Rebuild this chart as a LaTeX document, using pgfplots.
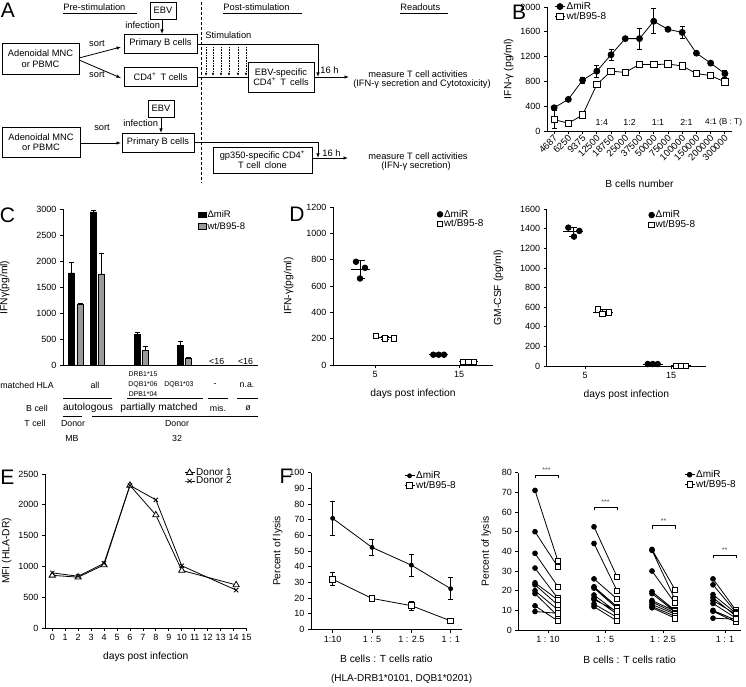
\documentclass[border=0pt]{standalone}
\usepackage{fontspec}
\setmainfont{Liberation Sans}
\usepackage{pgfplots}
\pgfplotsset{compat=1.18}
\usetikzlibrary{arrows.meta}
\newcommand{\fs}[2]{\fontsize{#1}{#2}\selectfont}
\definecolor{bargray}{gray}{0.6}
\pgfplotsset{
 gp/.style={
  scale only axis, anchor=south west,
  axis x line*=bottom, axis y line*=left,
  axis line style={line width=0.8pt, -},
  every tick/.style={line width=0.8pt, black},
  tick align=outside, major tick length=3pt,
  ticklabel style={font=\fs{9}{10}},
  label style={font=\fs{10.3}{12}},
  xlabel shift=4pt,
  /pgf/number format/assume math mode=true,
  /pgf/number format/1000 sep={},
  scaled ticks=false, clip=false,
  legend cell align=left,
  legend style={draw=none, fill=none, inner sep=0pt, font=\fs{10}{11}, row sep=-1.5pt, nodes={inner sep=1.2pt}, anchor=north west},
  every axis plot/.append style={line width=0.8pt},
  error bars/error bar style={line width=0.8pt, solid},
  error bars/error mark options={rotate=90, line width=0.8pt, mark size=2.5pt, solid},
 },
 lm/.style={legend image code/.code={\draw[mark repeat=2,mark phase=2,##1] plot coordinates {(0pt,0pt) (5pt,0pt) (10pt,0pt)};}},
}
\begin{document}
\begin{tikzpicture}
\useasboundingbox (0,0) rectangle (746pt,686pt);

% ---------------- B ----------------
\begin{axis}[gp, lm, at={(547pt,555pt)}, width=185pt, height=124pt,
  xmin=-0.5, xmax=12.5, ymin=0, ymax=2000, ytick={0,400,...,2000},
  xtick={0,...,12},
  xticklabels={4687,6250,9375,12500,18750,25000,37500,50000,75000,100000,150000,200000,300000},
  xticklabel style={xshift=4pt, rotate=45, anchor=east, font=\fs{9.5}{10}},
  xlabel={B cells number}, xlabel shift=10pt, ylabel={IFN-γ (pg/ml)},
  legend style={at={(0.04,1.05)}}]
\addplot[black, mark=*, mark size=3pt, error bars/.cd, y dir=both, y explicit] table[x=i, y=y, y error=e] {
i y e
0 375 45
1 510 0
2 820 45
3 965 95
4 1230 85
5 1490 20
6 1490 170
7 1770 200
8 1640 20
9 1590 100
10 1255 15
11 1095 20
12 925 55
};
\addlegendentry{ΔmiR}
\addplot[black, mark=square*, mark size=3.2pt, mark options={fill=white}, error bars/.cd, y dir=both, y explicit] table[x=i, y=y, y error=e] {
i y e
0 185 140
1 125 0
2 258 0
3 750 0
4 965 40
5 945 0
6 1075 0
7 1070 0
8 1080 0
9 1050 0
10 925 0
11 895 0
12 790 30
};
\addlegendentry{wt/B95-8}
\node[font=\fs{8.8}{10}] at (axis cs:3.35,145) {1:4};
\node[font=\fs{8.8}{10}] at (axis cs:5.3,145) {1:2};
\node[font=\fs{8.8}{10}] at (axis cs:7.3,145) {1:1};
\node[font=\fs{8.8}{10}] at (axis cs:9.3,145) {2:1};
\node[font=\fs{8.3}{10}, anchor=west, inner sep=0pt] at (axis cs:10.6,145) {4:1 (B : T)};
\end{axis}

% ---------------- C ----------------
\begin{axis}[gp, at={(63pt,320.3pt)}, width=195pt, height=156.4pt,
  xmin=63, xmax=258, ymin=0, ymax=3000, xtick=\empty, ytick={0,500,...,3000},
  ylabel={IFNγ(pg/ml)}, ylabel shift=20pt,
  legend style={at={(0.69,1.0)}, row sep=1pt, font=\fs{9.5}{10}},
  legend image code/.code={\draw[#1] (0pt,-2.8pt) rectangle (8pt,3pt);}]
\addplot[ybar, bar width=6, bar shift=0pt, fill=black, draw=black, line width=0.6pt,
  error bars/.cd, y dir=plus, y explicit, error mark options={rotate=90, mark size=2.5pt, line width=0.8pt}]
  coordinates {(71.5,1780) +- (0,200) (93,2950) +- (0,30) (137,608) +- (0,25) (180.5,385) +- (0,77)};
\addlegendentry{ΔmiR}
\addplot[ybar, bar width=6, bar shift=0pt, fill=bargray, draw=black, line width=0.6pt,
  error bars/.cd, y dir=plus, y explicit, error mark options={rotate=90, mark size=2.5pt, line width=0.8pt}]
  coordinates {(80,1170) +- (0,22) (101.5,1760) +- (0,395) (145,290) +- (0,75) (188.5,148) +- (0,14)};
\addlegendentry{wt/B95-8}
\end{axis}

% ---------------- D left ----------------
\begin{axis}[gp, at={(333pt,321pt)}, width=160pt, height=158pt,
  xmin=333, xmax=493, ymin=0, ymax=1200, ytick={0,200,...,1200},
  xtick={375,459}, xticklabels={5,15},
  xlabel={days post infection}, ylabel={IFN-γ(pg/ml)}, ylabel shift=6pt,
  legend style={at={(0.65,0.99)}}]
\addlegendimage{only marks, mark=*, mark size=2.8pt, black}
\addlegendentry{ΔmiR}
\addlegendimage{only marks, mark=square*, mark size=2.8pt, black, mark options={fill=white}}
\addlegendentry{wt/B95-8}
\addplot[forget plot, black, only marks, mark=-, mark size=9.5pt, error bars/.cd, y dir=both, y explicit, error mark options={rotate=90, mark size=4pt, line width=0.8pt}]
  coordinates {(360.5,725) +- (0,66) (384.5,207) +- (0,12) (438.7,78) +- (0,3) (468.3,25) +- (0,4)};
\addplot[forget plot, black, only marks, mark=*, mark size=2.8pt]
  coordinates {(356,784) (365,738) (360,657) (433.3,78) (438.7,78) (444,78)};
\addplot[forget plot, black, only marks, mark=square*, mark size=2.8pt, mark options={fill=white}]
  coordinates {(376,221) (385,200) (394,200) (463,25) (468.3,25) (473.7,25)};
\end{axis}

% ---------------- D right ----------------
\begin{axis}[gp, at={(546.7pt,320pt)}, width=159.3pt, height=156.7pt,
  xmin=546.7, xmax=706, ymin=0, ymax=1600, ytick={0,200,...,1600},
  xtick={585,671}, xticklabels={5,15},
  xlabel={days post infection}, ylabel={GM-CSF (pg/ml)}, ylabel shift=10pt,
  legend style={at={(0.64,1.0)}}]
\addlegendimage{only marks, mark=*, mark size=2.8pt, black}
\addlegendentry{ΔmiR}
\addlegendimage{only marks, mark=square*, mark size=2.8pt, black, mark options={fill=white}}
\addlegendentry{wt/B95-8}
\addplot[forget plot, black, only marks, mark=-, mark size=10pt, error bars/.cd, y dir=both, y explicit, error mark options={rotate=90, mark size=4pt, line width=0.8pt}]
  coordinates {(573,1372) +- (0,46) (602.5,552) +- (0,25) (652.7,20) +- (0,2) (681,3) +- (0,2)};
\addplot[forget plot, black, only marks, mark=*, mark size=2.8pt]
  coordinates {(568.3,1413) (574,1321) (579.3,1379) (647.7,20) (652.7,20) (657.7,20)};
\addplot[forget plot, black, only marks, mark=square*, mark size=2.8pt, mark options={fill=white}]
  coordinates {(597.7,579) (602.3,531) (608.7,545) (676,3) (681,3) (686,3)};
\end{axis}

% ---------------- E ----------------
\begin{axis}[gp, lm, at={(45pt,58pt)}, width=201.5pt, height=154pt,
  xmin=-0.56, xmax=15, ymin=0, ymax=2500, ytick={0,500,...,2500},
  xtick={0,...,15},
  xlabel={days post infection}, ylabel={MFI (HLA-DR)}, ylabel shift=0pt,
  legend style={at={(0.69,1.045)}, row sep=-2.5pt}]
\addplot[black, mark=triangle*, mark size=3.6pt, mark options={fill=white}]
  coordinates {(0,855) (2,825) (4,1025) (6,2315) (8,1835) (10,935) (14.2,700)};
\addlegendentry{Donor 1}
\addplot[black, mark=x, mark size=3pt]
  coordinates {(0,895) (2,840) (4,1050) (6,2315) (8,2080) (10,1010) (14.2,615)};
\addlegendentry{Donor 2}
\end{axis}

% ---------------- F left ----------------
\begin{axis}[gp, lm, at={(311pt,56.5pt)}, width=150.7pt, height=157pt,
  xmin=-0.55, xmax=3.28, ymin=0, ymax=100, ytick={0,10,...,100},
  xtick={0,1,2,3}, xticklabels={1:10,1 : 5,1 : 2.5,1 : 1},
  xlabel={B cells : T cells ratio}, xlabel shift=6pt, ylabel={Percent of lysis},
  legend style={at={(0.617,1.016)}}]
\addplot[black, mark=*, mark size=2pt, error bars/.cd, y dir=both, y explicit] table[x=i, y=y, y error=e] {
i y e
0 70.8 11
1 52.3 5.4
2 41 7
3 26 7
};
\addlegendentry{ΔmiR}
\addplot[black, mark=square*, mark size=2.8pt, mark options={fill=white}, error bars/.cd, y dir=both, y explicit] table[x=i, y=y, y error=e] {
i y e
0 32 4.2
1 19.8 2
2 15.2 3
3 5.5 1
};
\addlegendentry{wt/B95-8}
\end{axis}

% ---------------- F right ----------------
\begin{axis}[gp, lm, at={(518.3pt,56pt)}, width=222.7pt, height=157.3pt,
  xmin=518.3, xmax=741, ymin=0, ymax=80, ytick={0,10,...,80},
  xtick={548,605,663,725}, xticklabels={1 : 10,1 : 5,1 : 2.5,1 : 1},
  xlabel={B cells : T cells ratio}, xlabel shift=6pt, ylabel={Percent of lysis}, ylabel shift=4pt,
  legend style={at={(0.744,1.024)}}]
\addlegendimage{black, mark=*, mark size=2.4pt}
\addlegendentry{ΔmiR}
\addlegendimage{black, mark=square*, mark size=2.7pt, mark options={fill=white}}
\addlegendentry{wt/B95-8}
\addplot[forget plot, black, no marks, line width=0.8pt, unbounded coords=jump] coordinates {
(535,71) (558,35) (546,nan)
(535,50) (558,32) (546,nan)
(535,39) (558,22) (546,nan)
(535,31.5) (558,16) (546,nan)
(535,24) (558,15.3) (546,nan)
(535,23) (558,12.7) (546,nan)
(535,20) (558,10.2) (546,nan)
(535,18.5) (558,7.1) (546,nan)
(535,12.3) (558,4.6) (546,nan)
(535,9.4) (558,8.5) (546,nan)
(594,52.5) (617,27.1) (605,nan)
(594,44) (617,20) (605,nan)
(594,26) (617,15.8) (605,nan)
(594,22) (617,11.9) (605,nan)
(594,21.3) (617,11) (605,nan)
(594,17.8) (617,9) (605,nan)
(594,16.3) (617,8.1) (605,nan)
(594,15.5) (617,9.5) (605,nan)
(594,13.2) (617,6.5) (605,nan)
(594,11.9) (617,4.6) (605,nan)
(652,41) (675,20.5) (663,nan)
(652,40.5) (675,15.5) (663,nan)
(652,30) (675,13.7) (663,nan)
(652,19.5) (675,10) (663,nan)
(652,18.5) (675,9.3) (663,nan)
(652,15) (675,9.6) (663,nan)
(652,14.2) (675,8.7) (663,nan)
(652,13) (675,8) (663,nan)
(652,12) (675,7) (663,nan)
(652,11.3) (675,6) (663,nan)
(713,26) (736,10) (725,nan)
(713,23) (736,9) (725,nan)
(713,18) (736,8.5) (725,nan)
(713,16.5) (736,7) (725,nan)
(713,15) (736,8) (725,nan)
(713,13.5) (736,6) (725,nan)
(713,10) (736,5) (725,nan)
(713,9.5) (736,4) (725,nan)
(713,6) (736,5.5) (725,nan)
};
\addplot[forget plot, black, only marks, mark=*, mark size=2.4pt] coordinates {
(535,71) (535,50) (535,39) (535,31.5) (535,24) (535,23) (535,20) (535,18.5) (535,12.3) (535,9.4)
(594,52.5) (594,44) (594,26) (594,22) (594,21.3) (594,17.8) (594,16.3) (594,15.5) (594,13.2) (594,11.9)
(652,41) (652,40.5) (652,30) (652,19.5) (652,18.5) (652,15) (652,14.2) (652,13) (652,12) (652,11.3)
(713,26) (713,23) (713,18) (713,16.5) (713,15) (713,13.5) (713,10) (713,9.5) (713,6)
};
\addplot[forget plot, black, only marks, mark=square*, mark size=2.7pt, mark options={fill=white}] coordinates {
(558,35) (558,32) (558,22) (558,16) (558,15.3) (558,12.7) (558,10.2) (558,7.1) (558,4.6) (558,8.5)
(617,27.1) (617,20) (617,15.8) (617,11.9) (617,11) (617,9) (617,8.1) (617,9.5) (617,6.5) (617,4.6)
(675,20.5) (675,15.5) (675,13.7) (675,10) (675,9.3) (675,9.6) (675,8.7) (675,8) (675,7) (675,6)
(736,10) (736,9) (736,8.5) (736,7) (736,8) (736,6) (736,5) (736,4) (736,5.5)
};
\draw[line width=0.7pt] (axis cs:535,77.3) -- (axis cs:535,78.8) -- (axis cs:558,78.8) -- (axis cs:558,77.3);
\draw[line width=0.7pt] (axis cs:594,60.9) -- (axis cs:594,62.4) -- (axis cs:617,62.4) -- (axis cs:617,60.9);
\draw[line width=0.7pt] (axis cs:652,51.5) -- (axis cs:652,53) -- (axis cs:675,53) -- (axis cs:675,51.5);
\draw[line width=0.7pt] (axis cs:713,36.6) -- (axis cs:713,38.1) -- (axis cs:736,38.1) -- (axis cs:736,36.6);
\node[font=\fs{7}{7}, text=black!70] at (axis cs:546.5,81.3) {***};
\node[font=\fs{7}{7}, text=black!70] at (axis cs:605.5,64.9) {***};
\node[font=\fs{7}{7}, text=black!70] at (axis cs:663.5,55.5) {**};
\node[font=\fs{7}{7}, text=black!70] at (axis cs:724.5,40.6) {**};
\end{axis}

% ---------------- annotations in pixel coordinates ----------------
\begin{scope}[x=1pt, y=-1pt, shift={(0pt,686pt)}, line width=0.8pt, font=\fs{9.3}{10.5},
  arr/.style={-{Latex[length=4.5pt,width=3.5pt]}}]
 % panel letters
 \node[font=\fs{21}{21}] at (8,10) {A};
 \node[font=\fs{21}{21}] at (519,12) {B};
 \node[font=\fs{21}{21}] at (7.5,215) {C};
 \node[font=\fs{21}{21}] at (297,214) {D};
 \node[font=\fs{21}{21}] at (7.5,477) {E};
 \node[font=\fs{21}{21}] at (286,476) {F};
 % A headers
 \node[anchor=base west, inner sep=0pt] at (63,11) {Pre-stimulation};
 \draw[line width=0.6pt] (63,13.5) -- (137,13.5);
 \node[anchor=base west, inner sep=0pt] at (223,11) {Post-stimulation};
 \draw[line width=0.6pt] (223,13.5) -- (302,13.5);
 \node[anchor=base west, inner sep=0pt] at (400,11) {Readouts};
 \draw[line width=0.6pt] (400,13.5) -- (448,13.5);
 % row 1
 \draw (150,2) rectangle (176,19); \node at (163,10.5) {EBV};
 \node[anchor=base west, inner sep=0pt] at (125,29) {infection};
 \draw[arr] (162,19) -- (162,34);
 \draw (2,43) rectangle (79,74); \node[align=center, inner sep=0pt] at (40.5,58.5) {Adenoidal MNC\\or PBMC};
 \draw (124,34) rectangle (197,53); \node at (160.5,43.5) {Primary B cells};
 \draw (124,67) rectangle (197,86); \node at (160.5,76.5) {CD4\textsuperscript{+}\, T cells};
 \node at (97,44) {sort};
 \node at (97,75) {sort};
 \draw[arr] (79,58) -- (121,47);
 \draw[arr] (79,60) -- (121,78);
 \draw[line width=0.6pt, dash pattern=on 3pt off 2pt] (201,2) -- (201,183);
 \node[anchor=base west, inner sep=0pt] at (205,39) {Stimulation};
 \draw[arr] (197,44) -- (318,44) -- (318,77);
 \foreach \xx in {206,213,221,229,238,246} {
   \draw[line width=0.6pt, densely dotted, -{Latex[length=3pt,width=2.5pt]}] (\xx,47) -- (\xx,76);
 }
 \draw (197,77) -- (248,77);
 \draw (248,62) rectangle (314,92);
 \node[align=center, inner sep=0pt] at (281,77) {EBV-specific\\CD4\textsuperscript{+}\, T\, cells};
 \node[anchor=base west, inner sep=0pt] at (320,74) {16 h};
 \draw[arr] (314,77) -- (349,77);
 \node at (418,74) {measure T cell activities};
 \node at (422,84) {(IFN-γ secretion and Cytotoxicity)};
 % row 2
 \draw (148,100) rectangle (174,117); \node at (161,108.5) {EBV};
 \node[anchor=base west, inner sep=0pt] at (123,127) {infection};
 \draw[arr] (161,117) -- (161,133);
 \draw (2,127) rectangle (80,157); \node[align=center, inner sep=0pt] at (41,142) {Adenoidal MNC\\or PBMC};
 \node at (102,128) {sort};
 \draw[arr] (80,143) -- (121,143);
 \draw (122,133) rectangle (194,152); \node at (158,142.5) {Primary B cells};
 \draw[arr] (194,142) -- (318,142) -- (318,158);
 \draw (213,147) rectangle (312,173);
 \node[align=center, inner sep=0pt] at (262.5,160) {gp350-specific CD4\textsuperscript{+}\\T cell\, clone};
 \node[anchor=base west, inner sep=0pt] at (322,157) {16 h};
 \draw[arr] (312,158) -- (348,158);
 \node at (418,156) {measure T cell activities};
 \node at (416,166) {(IFN-γ secretion)};
 % C table
 \begin{scope}[font=\fs{8.8}{9.5}]
 \node at (216.7,361) {<16};
 \node at (245.5,361) {<16};
 \node[anchor=west, inner sep=0pt] at (0,385) {matched HLA};
 \node at (95,385) {all};
 \node[font=\fs{6.9}{8}] at (143,374.5) {DRB1*15};
 \node[font=\fs{6.9}{8}] at (143,384.5) {DQB1*06};
 \node[font=\fs{6.9}{8}] at (143,394) {DPB1*04};
 \node[font=\fs{6.9}{8}] at (179,385) {DQB1*03};
 \node at (215,385) {-};
 \node at (247,385) {n.a.};
 \draw[line width=0.6pt] (63,398.5) -- (112,398.5) (127,398.5) -- (203,398.5) (208,398.5) -- (228,398.5) (237,398.5) -- (258,398.5);
 \node at (37,408) {B cell};
 \node[font=\fs{10.2}{11}] at (88,408) {autologous};
 \node[font=\fs{10.2}{11}] at (159,408) {partially matched};
 \node at (218,408) {mis.};
 \node at (248,408) {ø};
 \draw[line width=0.6pt] (63,416) -- (82,416) (92,416) -- (258,416);
 \node at (35,423.5) {T cell};
 \node at (73,423.5) {Donor};
 \node at (177,423.5) {Donor};
 \node at (72,438) {MB};
 \node at (177,438) {32};
 \end{scope}
 % F extra label
 \node[font=\fs{10}{11}] at (401.7,679) {(HLA-DRB1*0101, DQB1*0201)};
\end{scope}
\end{tikzpicture}
\end{document}
